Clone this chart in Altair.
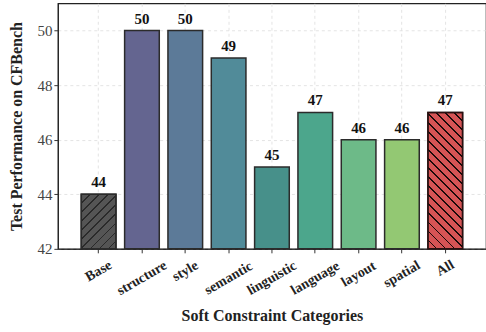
import math
import altair as alt
import pandas as pd

categories = ["Base", "structure", "style", "semantic", "linguistic",
              "language", "layout", "spatial", "All"]
scores = [44, 50, 50, 49, 45, 47, 46, 46, 47]
bar_colors = ["#555555", "#646590", "#5c7a98", "#518b99", "#47908a",
              "#4ca68c", "#6dba88", "#93c873", "#d65455"]
y_floor = 42
y_top = 51
y_ticks = [42, 44, 46, 48, 50]

df = pd.DataFrame({"category": categories, "score": scores})

W, H = 429, 246
p_in, p_out = 0.2, 0.54
step = W / (len(categories) - p_in + 2 * p_out)
bw = step * (1 - p_in)
unit = H / (y_top - y_floor)


def hatch(value, forward, line_color, period=6.4, lw=1.1):
    h = (value - y_floor) * unit
    r = h / bw
    a = (1 + r) / (1 + r * r)
    span = (bw + h) / math.sqrt(2)
    stops = [alt.GradientStop(color="rgba(0,0,0,0)", offset=0)]
    k = 1
    while k * period < span:
        c = k * period / span
        lo = round(max(0.0, c - lw / 2 / span), 5)
        hi = round(min(1.0, c + lw / 2 / span), 5)
        stops += [alt.GradientStop(color="rgba(0,0,0,0)", offset=lo),
                  alt.GradientStop(color=line_color, offset=lo),
                  alt.GradientStop(color=line_color, offset=hi),
                  alt.GradientStop(color="rgba(0,0,0,0)", offset=hi)]
        k += 1
    stops.append(alt.GradientStop(color="rgba(0,0,0,0)", offset=1))
    if forward:
        return alt.LinearGradient(gradient="linear", stops=stops,
                                  x1=0, y1=0, x2=a, y2=a * r)
    return alt.LinearGradient(gradient="linear", stops=stops,
                              x1=0, y1=1, x2=a, y2=1 - a * r)


FONT = "Liberation Serif"

label_pad = {
    "condition": [
        {"test": "length(datum.label) >= 8", "value": 25},
        {"test": "length(datum.label) >= 6", "value": 21},
        {"test": "length(datum.label) >= 4", "value": 18},
    ],
    "value": 15,
}

x_enc = alt.X("category:N", sort=categories,
              scale=alt.Scale(paddingInner=p_in, paddingOuter=p_out),
              axis=alt.Axis(title="Soft Constraint Categories",
                            labelAngle=-30, labelAlign="center",
                            labelBaseline="middle", labelPadding=label_pad,
                            labelFontWeight="bold", labelFontSize=14,
                            labelColor="#222222", bandPosition=0.5))
y_enc = alt.Y("score:Q", scale=alt.Scale(domain=[y_floor, y_top], nice=False),
              axis=alt.Axis(title="Test Performance on CFBench",
                            values=y_ticks, titlePadding=12))
y2_enc = alt.Y2(datum=y_floor)

base = alt.Chart(df)

bars = base.mark_bar(stroke="#2b2b2b", strokeWidth=1.5).encode(
    x=x_enc, y=y_enc, y2=y2_enc,
    color=alt.Color("category:N", sort=categories, legend=None,
                    scale=alt.Scale(domain=categories, range=bar_colors)),
)

hatch_base = base.transform_filter(alt.datum.category == "Base").mark_bar(
    fill=hatch(scores[0], True, "#2a2a2a"), stroke="#2b2b2b", strokeWidth=1.5
).encode(x=x_enc, y=y_enc, y2=y2_enc)

hatch_all = base.transform_filter(alt.datum.category == "All").mark_bar(
    fill=hatch(scores[-1], False, "#1a0a0a"), stroke="#2b0f0f", strokeWidth=1.5
).encode(x=x_enc, y=y_enc, y2=y2_enc)

labels = base.mark_text(dy=-4, baseline="bottom", font=FONT, fontSize=15,
                        fontWeight="bold", color="#111111").encode(
    x=x_enc, y=y_enc, text="score:Q")

chart = alt.layer(bars, hatch_base, hatch_all, labels).properties(
    width=W, height=H,
    autosize=alt.AutoSizeParams(type="none"),
    padding={"left": 58, "top": 3, "right": 0, "bottom": 83},
).configure_view(stroke="#222222", strokeWidth=1.2).configure_axis(
    labelFont=FONT, titleFont=FONT, labelFontSize=15, titleFontSize=16,
    titleFontWeight="bold", labelColor="#444444", titleColor="#222222",
    domainColor="#222222", tickColor="#333333", tickSize=4,
    grid=True, gridColor="#dddddd", gridDash=[3, 3], gridWidth=0.8,
).configure_axisX(titlePadding=10)

chart.save("out.html", embed_options={"renderer": "svg", "actions": False})
